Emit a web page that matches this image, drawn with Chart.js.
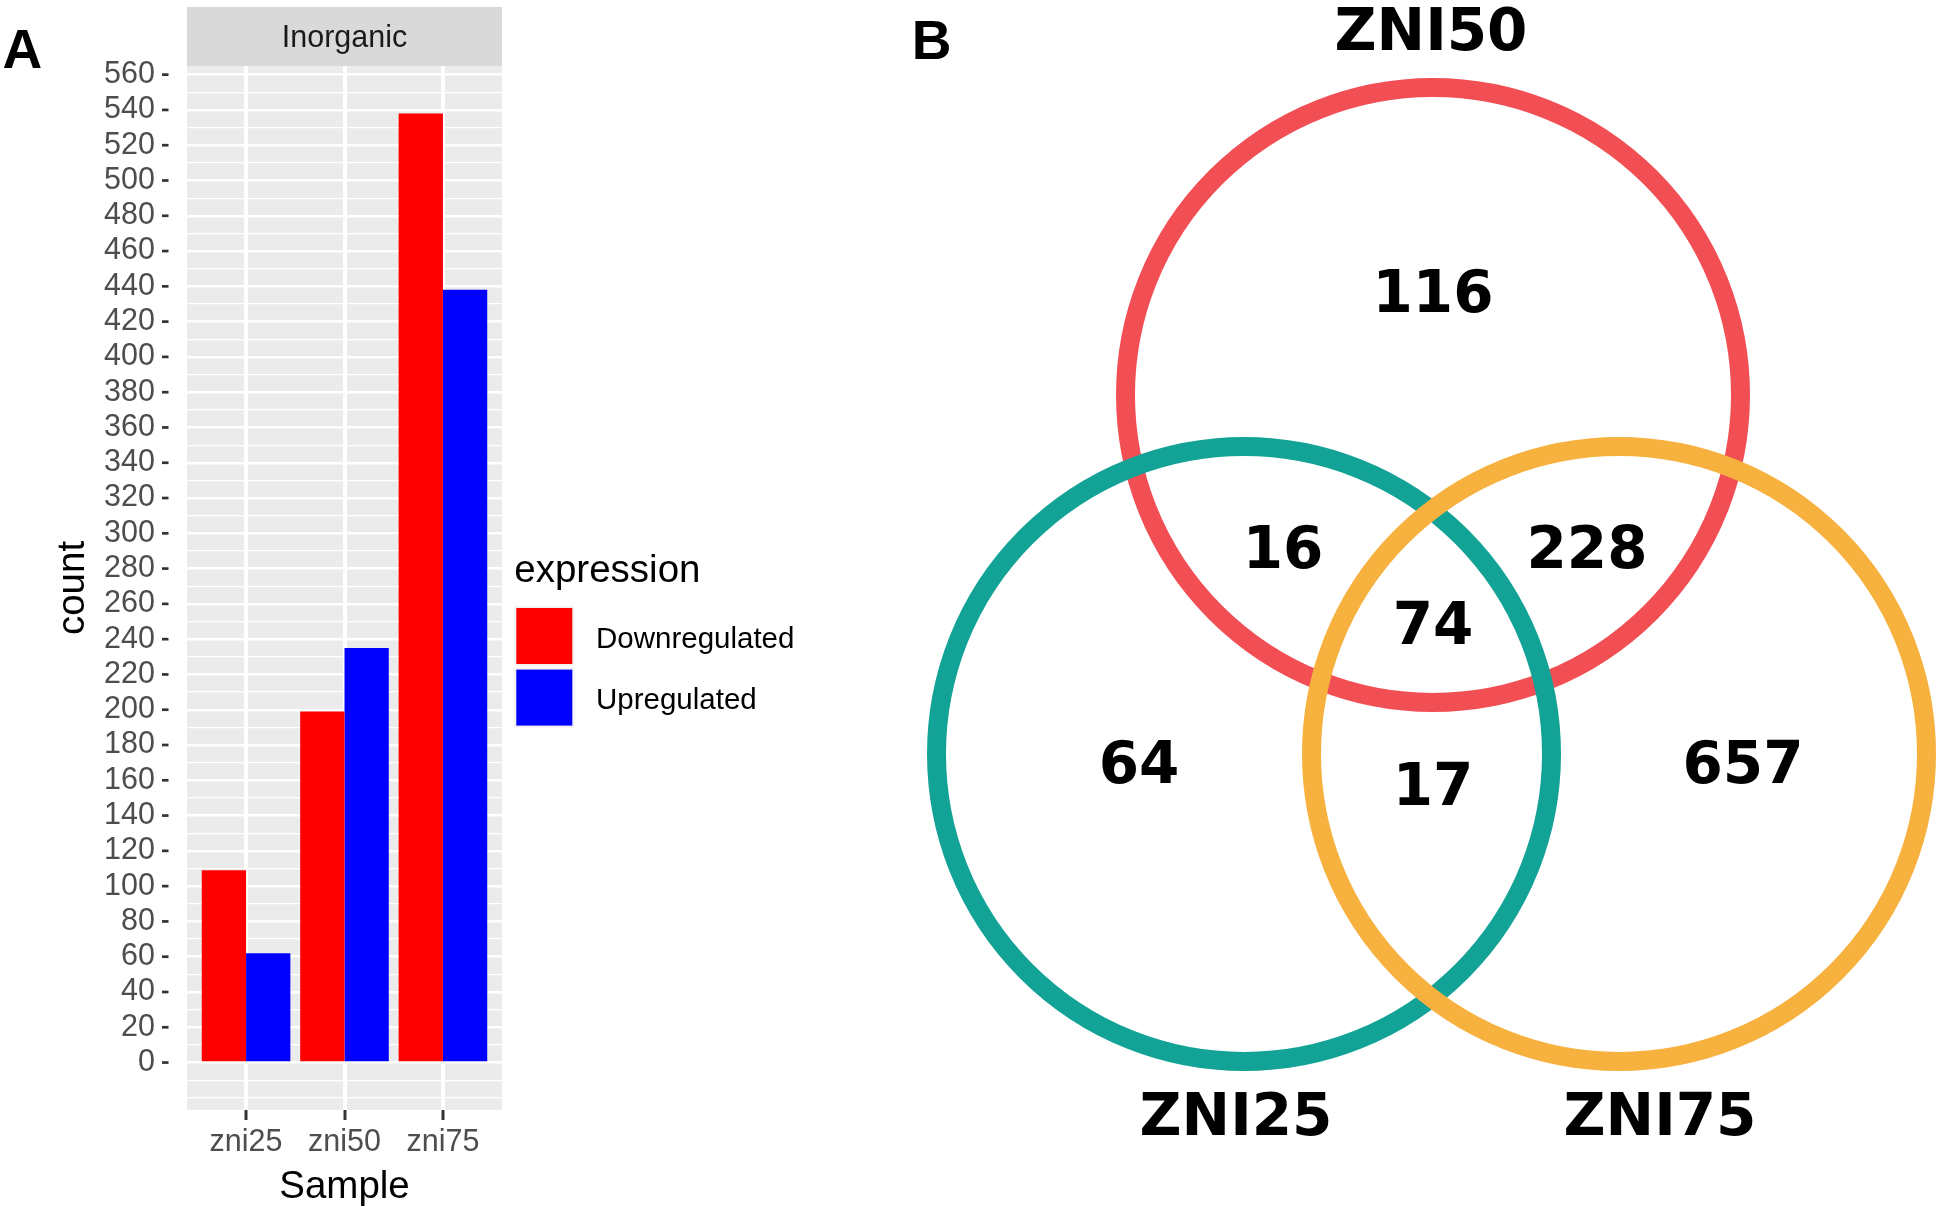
<!DOCTYPE html>
<html>
<head>
<meta charset="utf-8">
<title>DEG counts and Venn</title>
<script src="https://cdn.jsdelivr.net/npm/chart.js@4.4.1/dist/chart.umd.min.js"></script>
<style>
  html, body { margin: 0; padding: 0; background: #ffffff; }
  #wrap { position: relative; width: 1944px; height: 1207px; overflow: hidden; }
  canvas { position: absolute; top: 0; }
  #barChart { left: 0; }
  #vennChart { left: 880px; }
</style>
</head>
<body>
<div id="wrap">
  <canvas id="barChart" width="880" height="1207"></canvas>
  <canvas id="vennChart" width="1064" height="1207"></canvas>
</div>
<script>
// ---- panel A data ----
const stripLabel = 'Inorganic';
const samples = ['zni25', 'zni50', 'zni75'];
const downregulated = [109, 199, 538];
const upregulated = [62, 235, 438];
const yBreaks = [0, 20, 40, 60, 80, 100, 120, 140, 160, 180, 200, 220, 240, 260, 280,
                 300, 320, 340, 360, 380, 400, 420, 440, 460, 480, 500, 520, 540, 560];

// ---- panel B data ----
const vennSets = ['ZNI50', 'ZNI25', 'ZNI75'];
const vennRegions = ['ZNI50 only', 'ZNI50 & ZNI25', 'ZNI50 & ZNI75', 'all three',
                     'ZNI25 only', 'ZNI25 & ZNI75', 'ZNI75 only'];
const vennCounts = [116, 16, 228, 74, 64, 17, 657];

// ---- look ----
const GG_FONT = '"Liberation Sans", Arial, Helvetica, sans-serif';
const SERIES_COLOURS = ['#FF0000', '#0000FF'];
const VENN_COLOURS = ['#F24F55', '#13A396', '#F7B13E'];

// ggplot-like y range: 5% expansion of data range
const yMax0 = Math.max(...downregulated, ...upregulated);
const yMin = -0.05 * yMax0;
const yMax = yMax0 * 1.05;

// major breaks plus the minor ones half way between (and one step below 0)
const yGridValues = [];
for (let v = yBreaks[0] - 20; v <= yBreaks[yBreaks.length - 1]; v += 10) {
  if (v >= yMin && v <= yMax) yGridValues.push(v);
}

// strip, grey panel, y tick dashes, legend, panel letter
const ggDecor = {
  id: 'ggDecor',
  beforeDraw(chart) {
    const { ctx, chartArea: a } = chart;
    ctx.save();
    ctx.fillStyle = '#EBEBEB';
    ctx.fillRect(a.left, a.top, a.right - a.left, a.bottom - a.top);
    ctx.fillStyle = '#D9D9D9';
    ctx.fillRect(a.left, 7, a.right - a.left, a.top - 7);
    ctx.fillStyle = '#1A1A1A';
    ctx.font = '30.5px ' + GG_FONT;
    ctx.textAlign = 'center';
    ctx.textBaseline = 'middle';
    ctx.fillText(stripLabel, (a.left + a.right) / 2, (7 + a.top) / 2 + 2);
    ctx.restore();
  },
  afterDraw(chart) {
    const { ctx, chartArea: a } = chart;
    const ys = chart.scales.y;
    ctx.save();
    // y tick dashes (they sit a little away from the panel)
    ctx.strokeStyle = '#333333';
    ctx.lineWidth = 2.7;
    yBreaks.forEach(v => {
      const py = ys.getPixelForValue(v);
      ctx.beginPath();
      ctx.moveTo(a.left - 25, py);
      ctx.lineTo(a.left - 18.5, py);
      ctx.stroke();
    });

    // legend
    const lx = a.right + 12.3;
    ctx.fillStyle = '#000000';
    ctx.textAlign = 'left';
    ctx.textBaseline = 'alphabetic';
    ctx.font = '38.5px ' + GG_FONT;
    ctx.fillText('expression', lx, 581.5);
    chart.data.datasets.forEach((ds, i) => {
      const top = 606 + i * 61.6;
      ctx.fillStyle = '#F2F2F2';
      ctx.fillRect(lx, top, 60, 60);
      ctx.fillStyle = ds.backgroundColor;
      ctx.fillRect(lx + 2, top + 2, 56, 56);
      ctx.fillStyle = '#000000';
      ctx.font = '29.5px ' + GG_FONT;
      ctx.textBaseline = 'middle';
      ctx.fillText(ds.label, lx + 81.7, top + 33.5);
    });

    // panel letter
    ctx.font = 'bold 55px ' + GG_FONT;
    ctx.textAlign = 'center';
    ctx.textBaseline = 'middle';
    ctx.fillText('A', 22.3, 53);
    ctx.restore();
  }
};

const barChart = new Chart(document.getElementById('barChart'), {
  type: 'bar',
  data: {
    datasets: [
      { label: 'Downregulated', data: downregulated.map((v, i) => ({ x: i + 1, y: v })),
        backgroundColor: SERIES_COLOURS[0], borderWidth: 0 },
      { label: 'Upregulated', data: upregulated.map((v, i) => ({ x: i + 1, y: v })),
        backgroundColor: SERIES_COLOURS[1], borderWidth: 0 }
    ]
  },
  options: {
    responsive: false,
    animation: false,
    events: [],
    layout: { padding: { top: 66, right: 378, bottom: 0, left: 0 } },
    datasets: { bar: { categoryPercentage: 0.9, barPercentage: 1 } },
    plugins: { legend: { display: false }, tooltip: { enabled: false } },
    scales: {
      x: {
        type: 'linear',
        offset: false,
        min: 0.4,
        max: samples.length + 0.6,
        afterBuildTicks: s => { s.ticks = samples.map((_, i) => ({ value: i + 1 })); },
        afterFit: s => { s.height = 97; },
        ticks: {
          callback: v => samples[v - 1],
          color: '#4D4D4D',
          font: { family: GG_FONT, size: 30.5 },
          padding: 4.5,
          autoSkip: false,
          maxRotation: 0
        },
        grid: { offset: false, color: '#FFFFFF', lineWidth: 4, drawTicks: true, tickLength: 10,
                tickColor: '#333333', tickWidth: 3 },
        border: { display: false },
        title: { display: true, text: 'Sample', color: '#000000',
                 font: { family: GG_FONT, size: 38.5 }, padding: { top: 0, bottom: -3.5 } }
      },
      y: {
        min: yMin,
        max: yMax,
        afterBuildTicks: s => { s.ticks = yGridValues.map(v => ({ value: v })); },
        afterFit: s => { s.width = 187; },
        ticks: {
          callback: v => (yBreaks.includes(v) ? String(v) : ''),
          color: '#4D4D4D',
          font: { family: GG_FONT, size: 30.5 },
          padding: 32,
          autoSkip: false
        },
        grid: {
          color: '#FFFFFF',
          lineWidth: c => (yBreaks.includes(c.tick.value) ? 2.4 : 1.2),
          drawTicks: false
        },
        border: { display: false },
        title: { display: true, text: 'count', color: '#000000',
                 font: { family: GG_FONT, size: 38.5 }, padding: { top: 50, bottom: 0 } }
      }
    }
  },
  plugins: [ggDecor]
});

// ---- panel B: venn drawn as hollow points on hidden linear axes ----
// geometry in venn units (1 unit = 100 px), origin between the lower circles
const vennLayout = {
  radius: 3.075,
  centres: { ZNI50: [0, 3.59], ZNI25: [-1.89, 0], ZNI75: [1.86, 0] },
  countPos: [[0, 4.57], [-1.50, 2.01], [1.54, 2.01], [0, 1.25], [-2.94, -0.14], [0, -0.36], [3.10, -0.14]],
  namePos: { ZNI50: [-0.02, 7.19], ZNI25: [-1.97, -3.66], ZNI75: [2.27, -3.66] }
};

const vennText = {
  id: 'vennText',
  afterDatasetsDraw(chart) {
    const { ctx, scales: { x, y } } = chart;
    ctx.save();
    ctx.fillStyle = '#000000';
    ctx.textAlign = 'center';
    ctx.textBaseline = 'middle';
    ctx.font = 'bold 58px "DejaVu Sans", Verdana, sans-serif';
    vennCounts.forEach((n, i) => {
      const p = vennLayout.countPos[i];
      ctx.fillText(String(n), x.getPixelForValue(p[0]), y.getPixelForValue(p[1]));
    });
    vennSets.forEach(name => {
      const p = vennLayout.namePos[name];
      ctx.fillText(name, x.getPixelForValue(p[0]), y.getPixelForValue(p[1]));
    });
    ctx.font = 'bold 55px ' + GG_FONT;
    ctx.fillText('B', 51.7, 44);
    ctx.restore();
  }
};

const vennChart = new Chart(document.getElementById('vennChart'), {
  type: 'scatter',
  data: {
    datasets: [{
      label: 'sets',
      data: vennSets.map(n => ({ x: vennLayout.centres[n][0], y: vennLayout.centres[n][1] })),
      pointBackgroundColor: 'rgba(0,0,0,0)',
      pointBorderColor: VENN_COLOURS,
      pointBorderWidth: 19,
      pointRadius: c => {
        const s = c.chart.scales.x;
        return s.getPixelForValue(vennLayout.radius) - s.getPixelForValue(0);
      },
      showLine: false
    }]
  },
  options: {
    responsive: false,
    animation: false,
    events: [],
    clip: false,
    layout: { padding: 0 },
    plugins: { legend: { display: false }, tooltip: { enabled: false } },
    scales: {
      x: { type: 'linear', display: false, min: -5.53, max: 5.11 },
      y: { type: 'linear', display: false, min: -4.53, max: 7.54 }
    }
  },
  plugins: [vennText]
});
</script>
</body>
</html>
